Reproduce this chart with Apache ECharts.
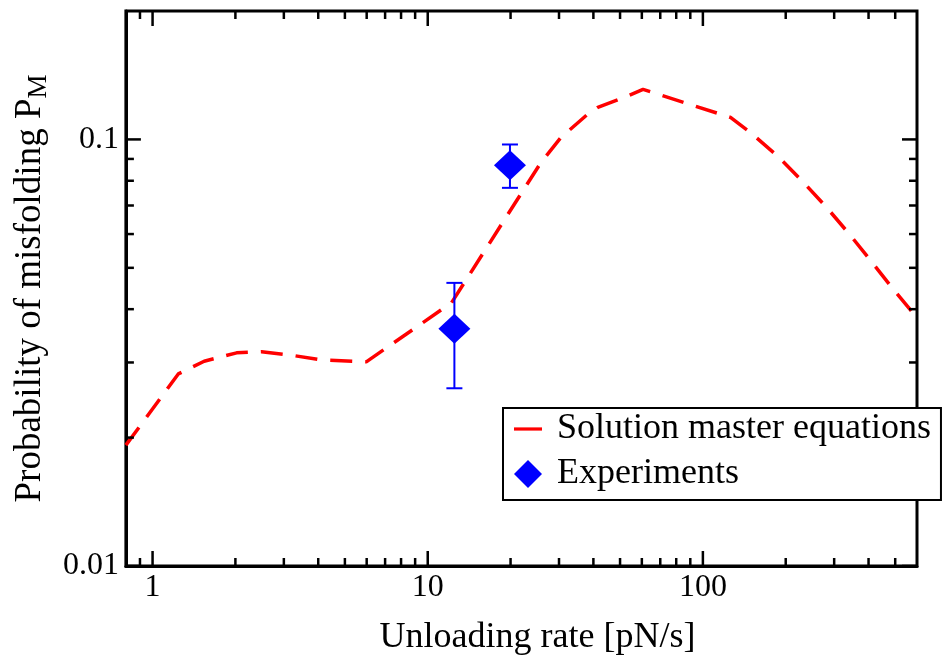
<!DOCTYPE html>
<html>
<head>
<meta charset="utf-8">
<script src="https://cdn.jsdelivr.net/npm/echarts@6/dist/echarts.min.js"></script>
<style>
html, body { margin: 0; padding: 0; background: #fff; }
#main { width: 943px; height: 668px; }
</style>
</head>
<body>
<div id="main"></div>
<script>
// solution of the master equations (red dashed curve)
const rateModel = [0.8, 1.24, 1.54, 2.02, 2.49, 3.19, 4.11, 5.98, 12.2, 25.8, 30.5, 38.1, 41.5, 53.3, 60.6, 126, 149, 187, 230, 282, 342, 413, 498, 600]
const probModel = [0.0192, 0.0282, 0.0302, 0.0316, 0.0318, 0.0312, 0.0304, 0.0301, 0.0414, 0.0883, 0.1011, 0.1145, 0.1189, 0.1264, 0.131, 0.1126, 0.1037, 0.0914, 0.0798, 0.0692, 0.0598, 0.0514, 0.0441, 0.0382]

// experiments (blue diamonds with error bars)
const rateExp = [12.5, 19.9]
const probExp = [0.036, 0.087]
const probExpLow = [0.0261, 0.077]
const probExpHigh = [0.0461, 0.0973]

// axis ticks
const xMajorTicks = [1, 10, 100]
const xMinorTicks = [0.9, 2, 3, 4, 5, 6, 7, 8, 9, 20, 30, 40, 50, 60, 70, 80, 90, 200, 300, 400, 500]
const yMajorTicks = [0.01, 0.1]
const yMinorTicks = [0.02, 0.03, 0.04, 0.05, 0.06, 0.07, 0.08, 0.09]

const FONT = '"Liberation Serif", "DejaVu Serif", serif'
const MAJOR = 15
const MINOR = 8

const myChart = echarts.init(document.getElementById('main'))

function decadeLabel (v) {
  const l = Math.log10(v)
  if (Math.abs(l - Math.round(l)) > 1e-6) return ''
  return String(Number(v.toPrecision(6)))
}

// tick marks drawn inside on both sides of the frame
function xTickItem (params, api) {
  const cs = params.coordSys
  const px = api.coord([api.value(0), api.value(1)])[0]
  const len = api.value(2)
  const st = { stroke: '#000', lineWidth: 2.5 }
  return {
    type: 'group',
    children: [
      { type: 'line', shape: { x1: px, y1: cs.y + cs.height, x2: px, y2: cs.y + cs.height - len }, style: st },
      { type: 'line', shape: { x1: px, y1: cs.y, x2: px, y2: cs.y + len }, style: st }
    ]
  }
}
function yTickItem (params, api) {
  const cs = params.coordSys
  const py = api.coord([api.value(0), api.value(1)])[1]
  const len = api.value(2)
  const st = { stroke: '#000', lineWidth: 2.5 }
  return {
    type: 'group',
    children: [
      { type: 'line', shape: { x1: cs.x, y1: py, x2: cs.x + len, y2: py }, style: st },
      { type: 'line', shape: { x1: cs.x + cs.width, y1: py, x2: cs.x + cs.width - len, y2: py }, style: st }
    ]
  }
}
function errorItem (params, api) {
  const lo = api.coord([api.value(0), api.value(1)])
  const hi = api.coord([api.value(0), api.value(2)])
  const st = { stroke: '#0000ff', lineWidth: 2 }
  const w = 8
  return {
    type: 'group',
    children: [
      { type: 'line', shape: { x1: lo[0], y1: lo[1], x2: hi[0], y2: hi[1] }, style: st },
      { type: 'line', shape: { x1: lo[0] - w, y1: lo[1], x2: lo[0] + w, y2: lo[1] }, style: st },
      { type: 'line', shape: { x1: hi[0] - w, y1: hi[1], x2: hi[0] + w, y2: hi[1] }, style: st }
    ]
  }
}

const xTicks = xMajorTicks.map(v => [v, 0.05, MAJOR]).concat(xMinorTicks.map(v => [v, 0.05, MINOR]))
const yTicks = yMajorTicks.map(v => [1, v, MAJOR]).concat(yMinorTicks.map(v => [1, v, MINOR]))

const option = {
  animation: false,
  backgroundColor: '#fff',
  textStyle: { fontFamily: FONT, color: '#000' },
  grid: {
    left: 124,
    top: 11,
    right: 26,
    bottom: 102,
    show: true,
    borderColor: '#000',
    borderWidth: 3
  },
  legend: {
    z: 10,
    orient: 'vertical',
    left: 503,
    top: 408,
    padding: [3, 10, 8, 11],
    itemGap: 9,
    itemWidth: 28,
    itemHeight: 28,
    symbolKeepAspect: true,
    backgroundColor: '#fff',
    borderColor: '#000',
    borderWidth: 2,
    borderRadius: 0,
    textStyle: { fontFamily: FONT, fontSize: 36, color: '#000', lineHeight: 36, padding: [0, 0, 0, 10] },
    data: [
      { name: 'Solution master equations', icon: 'path://M0,0L26,0L26,3L0,3Z', itemStyle: { color: '#ff0000' } },
      { name: 'Experiments', icon: 'diamond', itemStyle: { color: '#0000ff', opacity: 1 } }
    ]
  },
  xAxis: {
    type: 'log',
    logBase: 10,
    min: 0.8,
    max: 600,
    name: 'Unloading rate [pN/s]',
    nameLocation: 'middle',
    nameGap: 54,
    nameTextStyle: { fontFamily: FONT, fontSize: 36, color: '#000', padding: [0, 0, 0, 32] },
    axisLine: { show: true, lineStyle: { color: '#000', width: 3 } },
    axisTick: { show: false },
    splitLine: { show: false },
    axisLabel: { fontFamily: FONT, fontSize: 32, color: '#000', margin: 6, formatter: decadeLabel }
  },
  yAxis: {
    type: 'log',
    logBase: 10,
    min: 0.01,
    max: 0.2,
    name: 'Probability of misfolding P{sub|M}',
    nameLocation: 'middle',
    nameGap: 70,
    nameTextStyle: {
      fontFamily: FONT,
      fontSize: 37,
      color: '#000',
      lineHeight: 44,
      rich: {
        sub: { fontFamily: FONT, fontSize: 27, lineHeight: 26, verticalAlign: 'bottom' }
      }
    },
    axisLine: { show: true, lineStyle: { color: '#000', width: 3 } },
    axisTick: { show: false },
    splitLine: { show: false },
    axisLabel: { fontFamily: FONT, fontSize: 32, color: '#000', margin: 7, formatter: decadeLabel }
  },
  series: [
    {
      name: 'Solution master equations',
      type: 'line',
      data: rateModel.map((r, i) => [r, probModel[i]]),
      symbol: 'none',
      clip: true,
      lineStyle: { color: '#ff0000', width: 3.5, type: [22, 13] },
      itemStyle: { color: '#ff0000' },
      z: 2
    },
    {
      name: 'errors',
      type: 'custom',
      data: rateExp.map((r, i) => [r, probExpLow[i], probExpHigh[i]]),
      renderItem: errorItem,
      z: 3
    },
    {
      name: 'Experiments',
      type: 'scatter',
      data: rateExp.map((r, i) => [r, probExp[i]]),
      symbol: 'diamond',
      symbolSize: [32, 30],
      itemStyle: { color: '#0000ff', opacity: 1 },
      z: 4
    },
    {
      name: 'xticks',
      type: 'custom',
      data: xTicks,
      renderItem: xTickItem,
      z: 5
    },
    {
      name: 'yticks',
      type: 'custom',
      data: yTicks,
      renderItem: yTickItem,
      z: 5
    }
  ]
}
myChart.setOption(option)
</script>
</body>
</html>
